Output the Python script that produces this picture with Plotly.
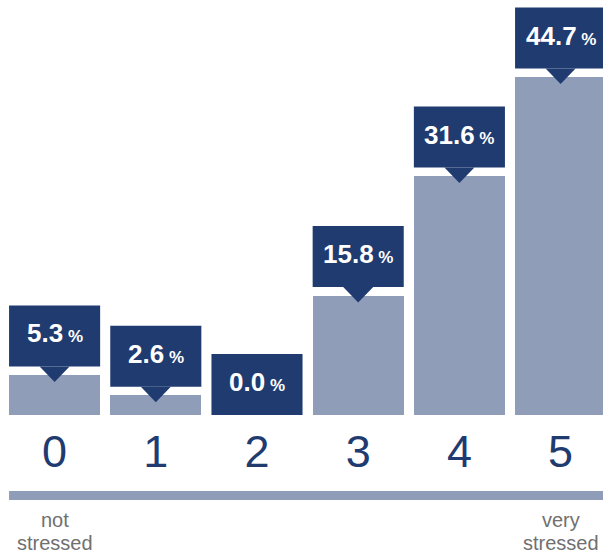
import plotly.graph_objects as go

# Stress scale (0 = not stressed ... 5 = very stressed), share of respondents in %
categories = ["0", "1", "2", "3", "4", "5"]
shares = [5.3, 2.6, 0.0, 15.8, 31.6, 44.7]
low_end_label = ["not", "stressed"]
high_end_label = ["very", "stressed"]

BAR_COLOR = "#8f9db9"
BOX_COLOR = "#1f3b70"
TEXT_GREY = "#707070"
FONT = "Liberation Sans, Arial, Helvetica, sans-serif"

x_pos = list(range(len(categories)))

fig = go.Figure(
    go.Bar(
        x=x_pos,
        y=shares,
        width=0.9,
        marker=dict(color=BAR_COLOR, line=dict(width=0)),
        hoverinfo="skip",
    )
)

shapes = []
annotations = []
for xi, v in zip(x_pos, shares):
    gap = 8.5 if v > 0 else 0.0
    # dark value box floating above the bar
    shapes.append(dict(
        type="rect", xref="x", yref="y",
        x0=xi - 0.45, x1=xi + 0.45,
        ysizemode="pixel", yanchor=v, y0=gap, y1=gap + 61,
        fillcolor=BOX_COLOR, line=dict(width=0), layer="above",
    ))
    if v > 0:
        # pointer from the box down onto the bar top
        shapes.append(dict(
            type="path", xref="x", yref="y",
            xsizemode="pixel", xanchor=xi,
            ysizemode="pixel", yanchor=v,
            path=f"M -15,{gap} L 15,{gap} L 0,-7 Z",
            fillcolor=BOX_COLOR, line=dict(width=0), layer="above",
        ))
    annotations.append(dict(
        x=xi, y=v, xref="x", yref="y",
        text=f"<b>{v:.1f}</b><span style='font-size:17px'><b> %</b></span>",
        showarrow=False, yanchor="middle", xanchor="center",
        yshift=gap + 33,
        font=dict(family=FONT, size=26, color="white"),
    ))

# horizontal scale rule under the digits
shapes.append(dict(
    type="rect", xref="x", yref="paper",
    x0=-0.45, x1=5.6,
    ysizemode="pixel", yanchor=0, y0=-76, y1=-85,
    fillcolor=BAR_COLOR, line=dict(width=0), layer="above",
))

# end-of-scale captions
for xi, lines in ((0, low_end_label), (5, high_end_label)):
    for k, line in enumerate(lines):
        annotations.append(dict(
            x=xi, y=0, xref="x", yref="paper",
            text=line, showarrow=False,
            xanchor="center", yanchor="middle",
            yshift=-105 - 23 * k,
            font=dict(family=FONT, size=20, color=TEXT_GREY),
        ))

fig.update_layout(
    width=603, height=555,
    margin=dict(l=4, r=0, t=0, b=140, pad=0),
    paper_bgcolor="white", plot_bgcolor="white",
    showlegend=False,
    shapes=shapes, annotations=annotations,
    bargap=0,
    xaxis=dict(
        range=[-0.5, -0.5 + 599 / 101.2],
        tickmode="array", tickvals=x_pos, ticktext=categories,
        tickfont=dict(family=FONT, size=45, color=BOX_COLOR),
        ticklabelstandoff=6,
        ticks="", showline=False, showgrid=False, zeroline=False,
        fixedrange=True,
    ),
    yaxis=dict(
        range=[0, 415 * 44.7 / 338],
        visible=False, showgrid=False, zeroline=False, fixedrange=True,
    ),
)

fig.write_html("out.html", config={"displayModeBar": False})
